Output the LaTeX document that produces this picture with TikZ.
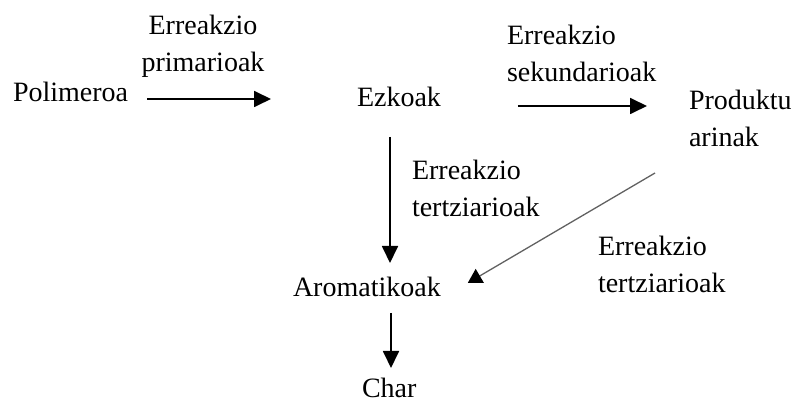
\documentclass[tikz,border=0pt]{standalone}
\usepackage{fontspec}
\setmainfont{Liberation Serif}
\usetikzlibrary{arrows.meta}
\tikzset{
  lbl/.style={inner sep=0pt, outer sep=0pt, font=\fontsize{28}{37}\selectfont, text=black},
  arr/.style={line width=1.8pt, draw=black, -{Triangle[length=17pt,width=16pt]}},
  thinarr/.style={line width=1.3pt, draw=black!62, -{Triangle[length=14pt,width=16pt,color=black]}}
}
\begin{document}
\begin{tikzpicture}[x=1pt,y=-1pt]
\useasboundingbox (0,0) rectangle (798,403);
\node[lbl, anchor=base west] (poly) at (13,102) {Polimeroa};
\node[lbl, anchor=base, align=center] (lab1) at (203,72) {Erreakzio\\primarioak};
\node[lbl, anchor=base west] (ezk) at (357,107) {Ezkoak};
\node[lbl, anchor=base west, align=left] (lab2) at (507,82) {Erreakzio\\sekundarioak};
\node[lbl, anchor=base west, align=left] (prod) at (689,147) {Produktu\\arinak};
\node[lbl, anchor=base west, align=left] (lab3) at (412,217) {Erreakzio\\tertziarioak};
\node[lbl, anchor=base west, align=left] (lab4) at (598,293) {Erreakzio\\tertziarioak};
\node[lbl, anchor=base west] (arom) at (293,297) {Aromatikoak};
\node[lbl, anchor=base west] (char) at (362,397) {Char};

\draw[arr] ([xshift=19pt,yshift=3pt]poly.base east) -- ([xshift=-86pt,yshift=8pt]ezk.base west);
\draw[arr] ([xshift=77pt,yshift=1pt]ezk.base east) -- ([xshift=-42pt,yshift=41pt]prod.base west);
\draw[arr] ([xshift=33pt,yshift=-30pt]ezk.base west) -- ([xshift=97pt,yshift=34pt]arom.base west);
\draw[arr] ([xshift=98pt,yshift=-16pt]arom.base west) -- ([xshift=29pt,yshift=29pt]char.base west);
\draw[thinarr] ([xshift=-34pt,yshift=-26pt]prod.base west) -- ([xshift=27pt,yshift=14pt]arom.base east);
\end{tikzpicture}
\end{document}
